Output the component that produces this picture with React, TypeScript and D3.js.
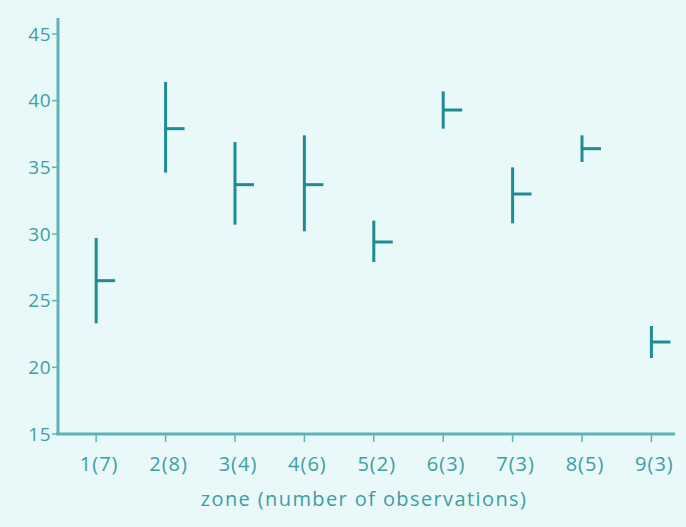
import React, { useEffect, useRef } from 'react';
import * as d3 from 'd3';

const zones = [1, 2, 3, 4, 5, 6, 7, 8, 9];
const zoneLabels = ['1(7)', '2(8)', '3(4)', '4(6)', '5(2)', '6(3)', '7(3)', '8(5)', '9(3)'];
const means = [26.5, 37.9, 33.7, 33.7, 29.4, 39.3, 33.0, 36.4, 21.9];
const lows = [23.3, 34.6, 30.7, 30.2, 27.9, 37.9, 30.8, 35.4, 20.7];
const highs = [29.7, 41.4, 36.9, 37.4, 31.0, 40.7, 35.0, 37.4, 23.1];
const yTicks = [15, 20, 25, 30, 35, 40, 45];

const App = () => {
    const svgRef = useRef<SVGSVGElement>(null);

    useEffect(() => {
        const width = 686;
        const height = 527;
        const left = 58, right = 675, top = 18, bottom = 434;
        const axisColor = '#5db4b8';
        const markColor = '#1f8c94';
        const textColor = '#3d9ea3';
        const font = '"Open Sans", Lato, sans-serif';

        const svg = d3.select(svgRef.current)
            .attr('width', width)
            .attr('height', height);

        svg.selectAll('*').remove();

        svg.append('rect')
            .attr('width', width)
            .attr('height', height)
            .attr('fill', '#e9f8f8');

        const x = d3.scaleLinear().domain([0.45, 9.34]).range([left, right]);
        const y = d3.scaleLinear().domain([15, 45]).range([bottom, 34]);

        // y axis
        const yAxis = svg.append('g');
        yAxis.append('line')
            .attr('x1', left).attr('x2', left)
            .attr('y1', top).attr('y2', bottom)
            .attr('stroke', axisColor).attr('stroke-width', 3);
        yAxis.selectAll('line.tick')
            .data(yTicks)
            .join('line')
            .attr('class', 'tick')
            .attr('x1', left - 6).attr('x2', left)
            .attr('y1', d => y(d)).attr('y2', d => y(d))
            .attr('stroke', axisColor).attr('stroke-width', 1.5);
        yAxis.selectAll('text')
            .data(yTicks)
            .join('text')
            .attr('x', left - 7)
            .attr('y', d => y(d))
            .attr('dy', '0.35em')
            .attr('text-anchor', 'end')
            .attr('fill', textColor)
            .style('font-family', font)
            .style('font-size', '19px')
            .style('letter-spacing', '0.5px')
            .text(d => d);

        // x axis
        const xAxis = svg.append('g');
        xAxis.append('line')
            .attr('x1', left - 2).attr('x2', right)
            .attr('y1', bottom).attr('y2', bottom)
            .attr('stroke', axisColor).attr('stroke-width', 3);
        xAxis.selectAll('line.tick')
            .data(zones)
            .join('line')
            .attr('class', 'tick')
            .attr('x1', d => x(d)).attr('x2', d => x(d))
            .attr('y1', bottom).attr('y2', bottom + 8)
            .attr('stroke', axisColor).attr('stroke-width', 1.5);
        xAxis.selectAll('text')
            .data(zones)
            .join('text')
            .attr('x', d => x(d) + 3)
            .attr('y', 471)
            .attr('text-anchor', 'middle')
            .attr('fill', textColor)
            .style('font-family', font)
            .style('font-size', '20px')
            .style('letter-spacing', '1px')
            .text((d, i) => zoneLabels[i]);

        svg.append('text')
            .attr('x', 364)
            .attr('y', 506)
            .attr('text-anchor', 'middle')
            .attr('fill', textColor)
            .style('font-family', font)
            .style('font-size', '20px')
            .style('letter-spacing', '1.4px')
            .text('zone (number of observations)');

        // range bars with mean tick
        const marks = svg.append('g');
        marks.selectAll('line.range')
            .data(zones)
            .join('line')
            .attr('class', 'range')
            .attr('x1', d => x(d)).attr('x2', d => x(d))
            .attr('y1', (d, i) => y(highs[i])).attr('y2', (d, i) => y(lows[i]))
            .attr('stroke', markColor).attr('stroke-width', 3);
        marks.selectAll('line.mean')
            .data(zones)
            .join('line')
            .attr('class', 'mean')
            .attr('x1', d => x(d)).attr('x2', d => x(d) + 19)
            .attr('y1', (d, i) => y(means[i])).attr('y2', (d, i) => y(means[i]))
            .attr('stroke', markColor).attr('stroke-width', 3);
    }, []);

    return (
        <React.Fragment>
            <svg ref={svgRef} style={{ position: 'absolute', left: 0, top: 0, display: 'block' }} />
        </React.Fragment>
    );
};

export default App;
